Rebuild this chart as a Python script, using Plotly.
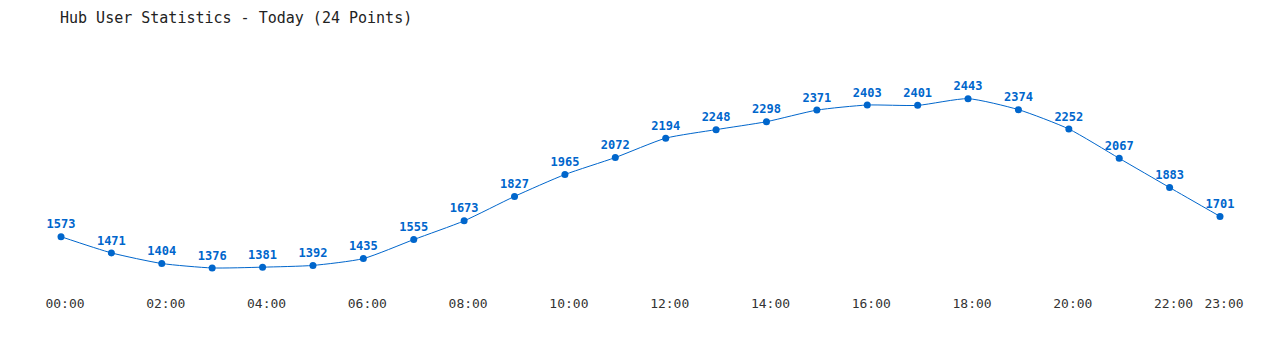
import plotly.graph_objects as go

hours = list(range(24))
hour_labels = [f"{h:02d}:00" for h in hours]
users = [1573, 1471, 1404, 1376, 1381, 1392, 1435, 1555, 1673, 1827, 1965, 2072,
         2194, 2248, 2298, 2371, 2403, 2401, 2443, 2374, 2252, 2067, 1883, 1701]
tick_hours = [0, 2, 4, 6, 8, 10, 12, 14, 16, 18, 20, 22, 23]
tick_text = [hour_labels[h] for h in tick_hours]

color = "#0066cc"
font = "DejaVu Sans Mono"

fig = go.Figure(go.Scatter(
    x=hours, y=users, mode="lines+markers+text",
    line=dict(color=color, width=1, shape="spline", smoothing=0.6),
    marker=dict(color=color, size=7),
    text=[str(v) for v in users], textposition="top center",
    textfont=dict(family=font, size=12, color=color, weight="bold"),
    cliponaxis=False, hoverinfo="skip",
))

fig.update_layout(
    width=1280, height=350,
    margin=dict(l=61, r=60, t=40, b=60),
    paper_bgcolor="white", plot_bgcolor="white",
    showlegend=False,
    title=dict(text="Hub User Statistics - Today (24 Points)", x=60/1280, xanchor="left",
               y=1-18/350, yanchor="middle",
               font=dict(family=font, size=15, color="#222222")),
    xaxis=dict(range=[0, 23], tickvals=tick_hours, ticktext=tick_text, showgrid=False,
               zeroline=False, showline=False, ticks="", ticklabelstandoff=4,
               ticklabelshift=4,
               tickfont=dict(family=font, size=13, color="#333333")),
    yaxis=dict(range=[1237, 2813], showgrid=False, zeroline=False, showline=False,
               showticklabels=False, ticks=""),
)

fig.write_html("out.html")
